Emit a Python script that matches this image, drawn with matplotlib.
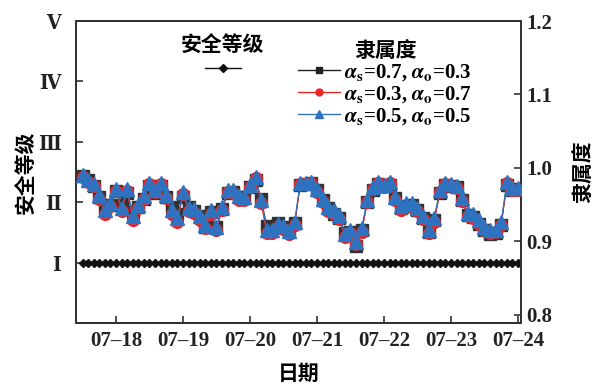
import matplotlib
matplotlib.use("Agg")
import matplotlib.pyplot as plt
import matplotlib.dates as mdates
from matplotlib.lines import Line2D
import pandas as pd

plt.rcParams['font.family'] = ['Liberation Serif', 'Noto Sans CJK SC']
plt.rcParams['font.weight'] = 'bold'
plt.rcParams['mathtext.fontset'] = 'stix'

# ---- data ----
times = pd.date_range('2023-07-17 12:00', '2023-07-24 00:00', freq='2h')

grade = [1] * len(times)

mem_blue = [0.990, 0.984, 0.978, 0.963, 0.943, 0.952, 0.971, 0.946, 0.971, 0.935,
            0.950, 0.962, 0.980, 0.970, 0.980, 0.963, 0.943, 0.932, 0.967, 0.946,
            0.944, 0.935, 0.922, 0.943, 0.920, 0.947, 0.970, 0.970, 0.962, 0.961,
            0.977, 0.988, 0.957, 0.916, 0.916, 0.924, 0.921, 0.914, 0.927, 0.980,
            0.980, 0.981, 0.971, 0.958, 0.947, 0.943, 0.936, 0.910, 0.916, 0.899,
            0.918, 0.957, 0.974, 0.981, 0.977, 0.981, 0.961, 0.948, 0.952, 0.952,
            0.946, 0.935, 0.916, 0.932, 0.970, 0.980, 0.978, 0.976, 0.959, 0.939,
            0.937, 0.929, 0.920, 0.916, 0.916, 0.927, 0.981, 0.973, 0.973]

mem_red = [0.988, 0.981, 0.975, 0.958, 0.937, 0.948, 0.968, 0.941, 0.968, 0.929,
           0.945, 0.958, 0.978, 0.967, 0.978, 0.959, 0.937, 0.926, 0.964, 0.941,
           0.939, 0.929, 0.918, 0.938, 0.916, 0.943, 0.967, 0.966, 0.957, 0.957,
           0.974, 0.986, 0.952, 0.912, 0.912, 0.919, 0.917, 0.910, 0.922, 0.978,
           0.978, 0.979, 0.967, 0.953, 0.942, 0.938, 0.931, 0.906, 0.911, 0.896,
           0.913, 0.953, 0.971, 0.979, 0.974, 0.979, 0.957, 0.943, 0.947, 0.947,
           0.941, 0.930, 0.912, 0.927, 0.967, 0.978, 0.975, 0.973, 0.955, 0.934,
           0.932, 0.924, 0.916, 0.912, 0.913, 0.923, 0.979, 0.970, 0.970]

mem_black = [0.989, 0.983, 0.976, 0.960, 0.946, 0.950, 0.968, 0.950, 0.966, 0.940,
             0.947, 0.958, 0.976, 0.966, 0.976, 0.960, 0.947, 0.937, 0.960, 0.947,
             0.942, 0.934, 0.920, 0.940, 0.919, 0.944, 0.966, 0.967, 0.960, 0.960,
             0.974, 0.983, 0.958, 0.921, 0.918, 0.925, 0.919, 0.915, 0.925, 0.977,
             0.978, 0.979, 0.970, 0.956, 0.945, 0.938, 0.932, 0.912, 0.913, 0.894,
             0.915, 0.953, 0.970, 0.978, 0.975, 0.977, 0.959, 0.945, 0.948, 0.949,
             0.943, 0.932, 0.913, 0.929, 0.966, 0.977, 0.976, 0.974, 0.957, 0.936,
             0.933, 0.924, 0.915, 0.910, 0.911, 0.922, 0.977, 0.970, 0.971]

grade_ticks = [1, 2, 3, 4, 5]
grade_labels = ['\u2160', '\u2161', '\u2162', '\u2163', '\u2164']
mem_ticks = [0.8, 0.9, 1.0, 1.1, 1.2]
series_labels = [r'$\boldsymbol{\alpha}_\mathbf{s}$=0.7, $\boldsymbol{\alpha}_\mathbf{o}$=0.3',
                 r'$\boldsymbol{\alpha}_\mathbf{s}$=0.3, $\boldsymbol{\alpha}_\mathbf{o}$=0.7',
                 r'$\boldsymbol{\alpha}_\mathbf{s}$=0.5, $\boldsymbol{\alpha}_\mathbf{o}$=0.5']

c_black = '#333333'
c_red = '#e8262a'
c_blue = '#2f72c0'
cjk = ['Noto Sans CJK SC', 'DejaVu Sans']

fig = plt.figure(figsize=(6.06, 3.84), dpi=100)
ax = fig.add_axes([0.1254, 0.1589, 0.7343, 0.7864])
ax2 = ax.twinx()

ax.plot(times, grade, color='#111111', lw=0.8, marker='D', ms=4.4,
        markerfacecolor='#111111', markeredgecolor='#111111', zorder=3)

l1, = ax2.plot(times, mem_black, color=c_black, lw=0.8, marker='s', ms=8, zorder=3)
l2, = ax2.plot(times, mem_red, color=c_red, lw=0.8, marker='o', ms=8.5, zorder=4)
l3, = ax2.plot(times, mem_blue, color=c_blue, lw=0.8, marker='^', ms=9.5, zorder=5)

ax.set_xlim(pd.Timestamp('2023-07-17 09:40'), pd.Timestamp('2023-07-24 01:05'))
ax.set_ylim(0, 5)
ax.set_yticks(grade_ticks)
ax.set_yticklabels(grade_labels, family=['DejaVu Serif', 'Noto Sans CJK SC'],
                   fontsize=14, weight='bold', fontstretch='condensed')
ax2.set_ylim(0.789, 1.2)
ax2.set_yticks(mem_ticks)
ax2.set_yticklabels([f'{v:.1f}' for v in mem_ticks])

ax.xaxis.set_major_locator(mdates.DayLocator())
ax.xaxis.set_major_formatter(mdates.DateFormatter('%m\u2013%d'))

for a in (ax, ax2):
    for s in a.spines.values():
        s.set_color('#333333')
        s.set_linewidth(1.4)
    a.tick_params(direction='in', length=5, width=1.2, color='#333333',
                  labelsize=15, labelcolor='#222222')
ax.tick_params(axis='x', pad=6)
ax.tick_params(axis='y', pad=11)
ax2.tick_params(axis='y', pad=4)

ax.set_xlabel('日期', family=cjk, fontsize=15, weight='bold', labelpad=8)
ax.set_ylabel('安全等级', family=cjk, fontsize=15, weight='bold', labelpad=1)
ax2.set_ylabel('隶属度', family=cjk, fontsize=15, weight='bold', rotation=90, labelpad=14)

h0 = Line2D([], [], color='#111111', lw=1.0, marker='D', ms=4.5)
leg1 = ax2.legend([h0], [''], title='安全等级', frameon=False,
                  loc='upper center', bbox_to_anchor=(0.33, 0.985),
                  handlelength=2.6, handletextpad=0.0, borderpad=0.2,
                  title_fontproperties={'family': cjk, 'size': 15, 'weight': 'bold'})
ax2.add_artist(leg1)
hs = [Line2D([], [], color='#222222', lw=1.0, marker='s', ms=5),
      Line2D([], [], color=c_red, lw=1.0, marker='o', ms=5),
      Line2D([], [], color=c_blue, lw=1.0, marker='^', ms=6)]
leg2 = ax2.legend(hs, series_labels, title='隶属度', frameon=False,
                  loc='upper center', bbox_to_anchor=(0.695, 0.985),
                  handlelength=2.0, handletextpad=0.2, labelspacing=0.05,
                  borderpad=0.2, prop={'size': 15, 'weight': 'bold'},
                  title_fontproperties={'family': cjk, 'size': 15, 'weight': 'bold'})

fig.savefig('out.png', dpi=100)
